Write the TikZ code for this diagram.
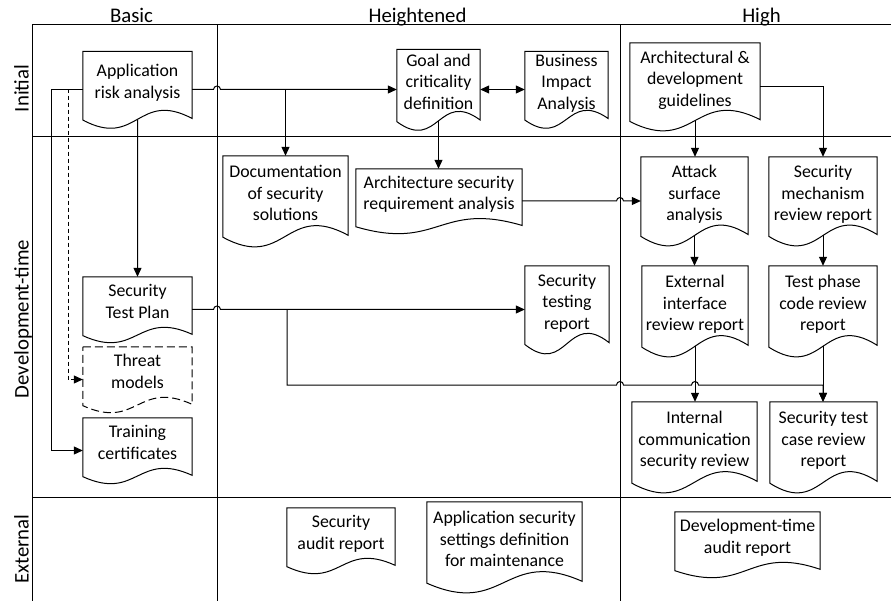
\documentclass[tikz,border=0pt]{standalone}
\usepackage{fontspec}
\setmainfont{Carlito}
\usetikzlibrary{arrows.meta,calc}

% document outline with a wavy bottom, drawn round a named node
\newcommand{\docshape}[2][]{%
  \draw[docline,#1] (#2.north west) -- (#2.north east)
    -- ($(#2.south east)!.12!(#2.north east)$)
    .. controls (#2.center) and ($(#2.south)!-.28!(#2.north)$)
    .. ($(#2.south west)!.1!(#2.north west)$) -- cycle;
  \coordinate (#2-b) at ($(#2.south)!.11!(#2.north)$);}

\begin{document}
\begin{tikzpicture}[x=1pt,y=-1pt,
  lane/.style={line width=1pt},
  docline/.style={line width=1pt},
  conn/.style={line width=1pt,-{Triangle[length=9pt,width=8pt]}},
  doc/.style 2 args={inner sep=0pt,align=center,minimum width=#1pt,minimum height=#2pt,
    font=\fontsize{17.8}{21.5}\selectfont,execute at end node={\rule[-16pt]{0pt}{16pt}}},
  head/.style={anchor=base,font=\fontsize{20.8}{25}\selectfont},
  side/.style={anchor=base,rotate=90,font=\fontsize{20.8}{25}\selectfont}]
\useasboundingbox (0,0) rectangle (891,601);

% lanes
\draw[lane] (32,601) -- (32,25) -- (891,25);
\draw[lane] (32,137) -- (891,137);
\draw[lane] (32,497.5) -- (891,497.5);
\draw[lane] (217,25) -- (217,601);
\draw[lane] (620,25) -- (620,601);
\node[head] (hbasic) at (131.5,23) {Basic};
\node[head] (hheight) at (417.5,23) {Heightened};
\node[head] (hhigh) at (761.5,23) {High};
\node[side] (sinit) at (28.5,88.5) {Initial};
\node[side] (sdev) at (28.5,319) {Development-time};
\node[side] (sext) at (28.5,549) {External};

% documents
\node[doc={109}{76}] (ara) at (137.5,89.5) {Application\\risk analysis};
\node[doc={83}{80}] (gcd) at (438.5,89.5) {Goal and\\criticality\\definition};
\node[doc={83}{76}] (bia) at (566.5,89.5) {Business\\Impact\\Analysis};
\node[doc={130}{87}] (agd) at (695,86.5) {Architectural \&\\development\\guidelines};
\node[doc={125}{90}] (dss) at (285.5,201) {Documentation\\of security\\solutions};
\node[doc={166}{64}] (asr) at (439,201) {Architecture security\\requirement analysis};
\node[doc={107}{88}] (asa) at (694.5,201) {Attack\\surface\\analysis};
\node[doc={108}{88}] (smr) at (823,201) {Security\\mechanism\\review report};
\node[doc={109}{65}] (stp) at (137.5,309.5) {Security\\Test Plan};
\node[doc={84}{87}] (str) at (567,309.5) {Security\\testing\\report};
\node[doc={106}{90}] (eir) at (695,311) {External\\interface\\review report};
\node[doc={108}{90}] (tpc) at (823,311) {Test phase\\code review\\report};
\node[doc={109}{65}] (thm) at (137.5,379.5) {Threat\\models};
\node[doc={109}{65}] (trc) at (137.5,450.5) {Training\\certificates};
\node[doc={125}{90}] (icr) at (694.5,447) {Internal\\communication\\security review};
\node[doc={107}{90}] (stc) at (823.5,447) {Security test\\case review\\report};
\node[doc={108}{65}] (sar) at (341,540.5) {Security\\audit report};
\node[doc={155}{90}] (ass) at (504.5,547) {Application security\\settings definition\\for maintenance};
\node[doc={145}{65}] (dta) at (747.5,544.5) {Development-time\\audit report};

\foreach \n in {ara,gcd,bia,agd,dss,asr,asa,smr,stp,str,eir,tpc,trc,icr,stc,sar,ass,dta}
  {\docshape{\n}}
\docshape[dash pattern=on 8pt off 4pt]{thm}

% connectors
\draw[conn] (ara.east) -- (213.5,89.5) arc[start angle=180,end angle=0,radius=3.5pt] -- (gcd.west);
\draw[conn] (ara.east -| dss.north) -- (dss.north);
\draw[conn] (ara.west) -- (51,89.5) |- (trc.west);
\draw[conn,dash pattern=on 4pt off 3pt] (ara.west) -- (68,89.5) |- (thm.west);
\draw[conn] (ara-b) -- (stp.north);
\draw[conn,{Triangle[length=9pt,width=8pt]}-{Triangle[length=9pt,width=8pt]}] (gcd.east) -- (bia.west);
\draw[conn] (gcd-b) -- (gcd-b |- asr.north);
\draw[conn] (asr.east) -- (616.5,201) arc[start angle=180,end angle=0,radius=3.5pt] -- (asa.west);
\draw[conn] (agd-b) -- (agd-b |- asa.north);
\draw[conn] (agd.east) -| (smr.north);
\draw[conn] (asa-b) -- (asa-b |- eir.north);
\draw[conn] (smr-b) -- (smr-b |- tpc.north);
\draw[conn] (eir-b) -- (eir-b |- icr.north);
\draw[conn] (tpc-b) -- (tpc-b |- stc.north);
\draw[conn] (stp.east) -- (213.5,309.5) arc[start angle=180,end angle=0,radius=3.5pt] -- (str.west);
\coordinate (tp-split) at (287,309.5);
\draw[conn] (tp-split) |- (616.5,385) arc[start angle=180,end angle=0,radius=3.5pt]
  -- (691.5,385) arc[start angle=180,end angle=0,radius=3.5pt] -| (tpc-b |- stc.north);

\end{tikzpicture}
\end{document}
